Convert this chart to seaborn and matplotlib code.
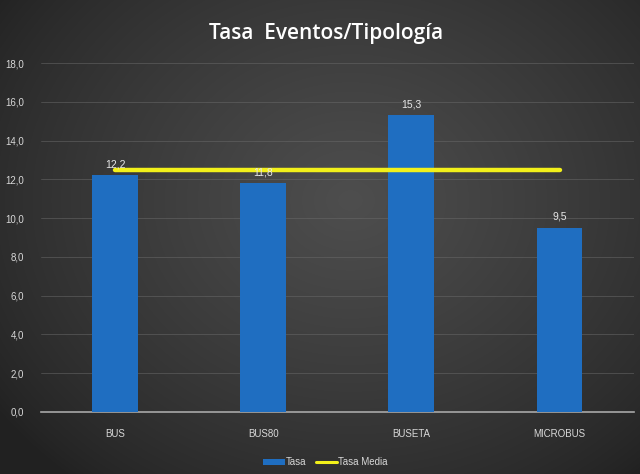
import numpy as np
import pandas as pd
import matplotlib
matplotlib.use("Agg")
import matplotlib.pyplot as plt
import seaborn as sns

categories = ["BUS", "BUS80", "BUSETA", "MICROBUS"]
tasa = [12.2, 11.8, 15.3, 9.5]
tasa_media = [12.5, 12.5, 12.5, 12.5]
yticks = [0, 2, 4, 6, 8, 10, 12, 14, 16, 18]

df = pd.DataFrame({"Tipología": categories, "Tasa": tasa, "Tasa Media": tasa_media})

sns.set_theme(style="dark")
plt.rcParams['font.family'] = ['Liberation Sans', 'DejaVu Sans']

fig = plt.figure(figsize=(6.4, 4.74), dpi=100)

# background radial gradient
bg = fig.add_axes([0, 0, 1, 1], zorder=-10)
yy, xx = np.mgrid[0:474, 0:640]
r = np.sqrt(((xx - 350) / 430.0) ** 2 + ((yy - 200) / 360.0) ** 2)
val = np.clip(1 - r, 0, 1) ** 0.8
c0 = np.array([0x22, 0x22, 0x22]) / 255
c1 = np.array([0x4E, 0x4E, 0x4E]) / 255
img = c0[None, None, :] + (c1 - c0)[None, None, :] * val[:, :, None]
bg.imshow(img, aspect="auto", extent=[0, 1, 0, 1])
bg.axis("off")

ax = fig.add_axes([0.064, 0.131, 0.926, 0.736])
ax.set_facecolor("none")
sns.barplot(data=df, x="Tipología", y="Tasa", color="#1F6EC1", width=0.31,
            saturation=1, ax=ax, label="Tasa", zorder=3, edgecolor="none", linewidth=0)
sns.lineplot(data=df, x="Tipología", y="Tasa Media", color="#F2F01A", linewidth=3.2,
             ax=ax, label="Tasa Media", zorder=4)

for i, v in enumerate(tasa):
    ax.text(i, v + 0.3, f"{v:.1f}".replace(".", ","), ha="center", va="bottom",
            color="#E8E8E8", fontsize=7.5, zorder=5)

ax.set_ylim(0, 18)
ax.set_xlim(-0.5, 3.5)
ax.set_yticks(yticks)
ax.set_yticklabels([f"{t:.1f}".replace(".", ",") for t in yticks], color="#D8D8D8", fontsize=7)
ax.set_xticklabels(categories, color="#D8D8D8", fontsize=7)
ax.tick_params(axis="x", length=0, pad=12)
ax.tick_params(axis="y", length=0, pad=12)
ax.set_xlabel("")
ax.set_ylabel("")
ax.grid(axis="y", color="#6A6A6A", linewidth=0.6, alpha=0.6, zorder=0)
ax.grid(axis="x", visible=False)
for s in ["top", "right", "left"]:
    ax.spines[s].set_visible(False)
ax.spines["bottom"].set_color("#A8A8A8")
ax.spines["bottom"].set_linewidth(1.2)

handles, labels = ax.get_legend_handles_labels()
order = [labels.index("Tasa"), labels.index("Tasa Media")]
leg = ax.legend([handles[i] for i in order], [labels[i] for i in order],
                loc="upper center", bbox_to_anchor=(0.48, -0.105), ncol=2, frameon=False,
                fontsize=7, handlelength=2.2, handleheight=0.5, handletextpad=0.1,
                columnspacing=1.0, labelcolor="#D8D8D8")
for h in leg.get_lines():
    h.set_linewidth(2.2)

fig.text(0.51, 0.93, "Tasa  Eventos/Tipología", ha="center", va="center",
         color="white", fontsize=15, fontweight="semibold", family=["Open Sans", "DejaVu Sans"])

fig.savefig("out.png", dpi=100)
